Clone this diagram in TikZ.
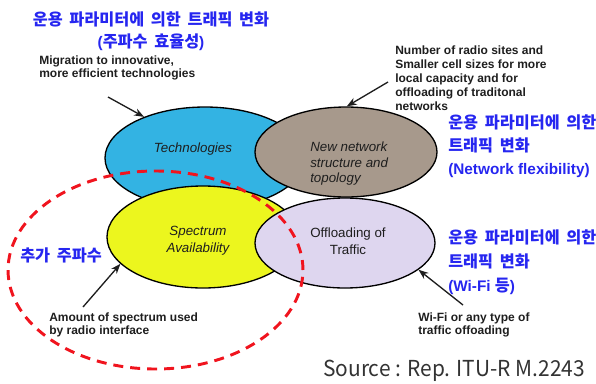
\documentclass[tikz,border=0pt]{standalone}
\usepackage{fontspec}
\setmainfont{Liberation Sans}
\newfontfamily\kr{Noto Sans CJK KR}[WordSpace=1.8]
\newfontfamily\srcfont{Noto Sans CJK KR}[FakeStretch=0.95]
\newcommand{\latbf}[1]{{\normalfont\bfseries\fontsize{11.5}{\baselineskip}\selectfont#1}}
\usetikzlibrary{arrows.meta,shapes.geometric}

\definecolor{techblue}{RGB}{51,179,227}
\definecolor{netbrown}{RGB}{167,153,140}
\definecolor{specyellow}{RGB}{236,246,30}
\definecolor{offlilac}{RGB}{222,214,239}
\definecolor{korblue}{RGB}{38,38,240}
\definecolor{notegray}{RGB}{30,30,30}
\definecolor{dashred}{RGB}{240,20,30}

\begin{document}
\begin{tikzpicture}[x=0.75pt,y=-0.75pt,>=Stealth,
	bubble/.style={ellipse,draw=black,line width=1pt,inner sep=0pt},
	tag/.style={font=\fontsize{10}{11.6}\selectfont,text=notegray,inner sep=0pt},
	note/.style={font=\fontsize{9}{9.7}\selectfont\bfseries,text=notegray,align=left,inner sep=0pt,anchor=west},
	korean/.style={font=\kr\bfseries\fontsize{12.2}{17.25}\selectfont,text=korblue,inner sep=0pt},
	pointer/.style={->,line width=1pt,notegray}]
		
		\useasboundingbox (0,0) rectangle (596,383);
		
		% the four ellipses
		\node[bubble,fill=techblue,minimum width=150pt,minimum height=76.5pt] (tech) at (205,158) {};
		\node[bubble,fill=netbrown,minimum width=136.5pt,minimum height=67.5pt] (net) at (346,152) {};
		\node[bubble,fill=specyellow,minimum width=144pt,minimum height=76.5pt] (spec) at (203,237) {};
		\node[bubble,fill=offlilac,minimum width=135pt,minimum height=67.5pt] (off) at (345,243) {};
		
		% texts in the ellipses
		\node[tag,font=\fontsize{10}{11.6}\selectfont\itshape] (techtext) at (193,149) {Technologies};
		\node[tag,font=\fontsize{10}{11.6}\selectfont\itshape,align=left,anchor=west] (nettext) at (310,164) {New network\\structure and\\topology};
		\node[tag,font=\fontsize{10}{12.75}\selectfont\itshape,align=center] (spectext) at (198,241) {Spectrum\\Availability};
		\node[tag,font=\fontsize{10}{12.75}\selectfont,align=center] (offtext) at (348,241) {Offloading of\\Traffic};
		
		% extra spectrum
		\draw[dashred,line width=2.2pt,dash pattern=on 7.5pt off 5.25pt] (155.5,270) ellipse [x radius=110.6pt,y radius=74.25pt];
		
		% notes
		\node[note] (technote) at (39,68) {Migration to innovative,\\more efficient technologies};
		\node[note,font=\fontsize{9}{10.5}\selectfont\bfseries] (netnote) at (395,78) {Number of radio sites and\\Smaller cell sizes for more\\local capacity and for\\offloading of traditonal\\networks};
		\node[note] (specnote) at (49,324.5) {Amount of spectrum used\\by radio interface};
		\node[note] (offnote) at (418,324.5) {Wi-Fi or any type of\\traffic offoading};
		
		% pointers
		\coordinate (techfrom) at (108,97);
		\coordinate (netfrom) at (388,82);
		\coordinate (specfrom) at (83,307);
		\coordinate (offfrom) at (463,305);
		\draw[pointer] (techfrom) -- (tech.146);
		\draw[pointer] (netfrom) -- (net.89);
		\draw[pointer] (specfrom) -- (spec.198);
		\draw[pointer] (offfrom) -- (off.-20);
		
		% korean remarks
		\node[korean,align=center,font=\kr\bfseries\fontsize{12.2}{16.5}\selectfont] (toptitle) at (151,31) {운용 파라미터에 의한 트래픽 변화\\\latbf{(}주파수 효율성\latbf{)}};
		\node[korean,align=left,anchor=west] (netkor) at (448,146) {운용 파라미터에 의한\\트래픽 변화\\\latbf{(Network flexibility)}};
		\node[korean,align=left,anchor=west,font=\kr\bfseries\fontsize{12.2}{18}\selectfont] (offkor) at (448,262) {운용 파라미터에 의한\\트래픽 변화\\\latbf{(Wi-Fi }등\latbf{)}};
		\node[korean,anchor=west] (speckor) at (20,255) {추가 주파수};
		
		% source
		\node[inner sep=0pt,anchor=west,font=\srcfont\fontsize{16.5}{18}\selectfont,text=black!80] (source) at (323,371) {Source : Rep. ITU-R M.2243};
		
	\end{tikzpicture}
\end{document}
